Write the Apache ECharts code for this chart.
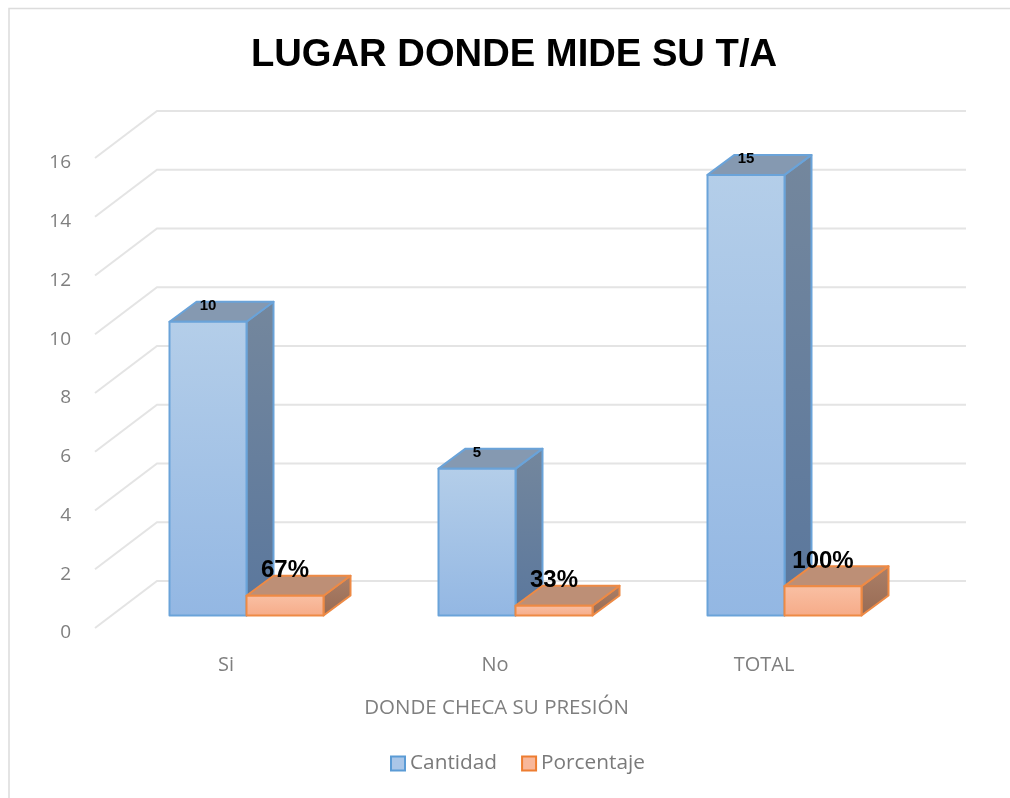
<!DOCTYPE html>
<html><head><meta charset="utf-8">
<style>html,body{margin:0;padding:0;background:#fff}#c{width:1010px;height:798px}</style>
<script src="https://cdn.jsdelivr.net/npm/echarts@6/dist/echarts.min.js"></script>
</head><body><div id="c"></div>
<script>
const categories = ['Si', 'No', 'TOTAL'];
const cantidad = [10, 5, 15];
const porcentaje = [0.67, 0.33, 1];
const porcentajeLabels = ['67%', '33%', '100%'];
const yTicks = [0, 2, 4, 6, 8, 10, 12, 14, 16];

const WALL_DX = 62, WALL_DY = 47;     // back wall offset
const BASE_DX = 17, BASE_DY = 12.5;   // bar plane offset
const DEPTH_DX = 27, DEPTH_DY = 20;   // bar depth
const BAR_W = 77;
const ARIAL = '"Liberation Sans", Arial, sans-serif';
const BODY = '"Open Sans", "Noto Sans", sans-serif';

function vGrad(a, b) {
  return new echarts.graphic.LinearGradient(0, 0, 0, 1, [{offset: 0, color: a}, {offset: 1, color: b}]);
}

function renderWall(params, api) {
  const cs = params.coordSys;
  const p = api.coord([0, api.value(0)]);
  const y = p[1];
  return {
    type: 'polyline',
    silent: true,
    shape: {points: [[cs.x, y], [cs.x + WALL_DX, y - WALL_DY], [cs.x + cs.width + WALL_DX + 2, y - WALL_DY]]},
    style: {fill: null, stroke: '#e4e4e4', lineWidth: 2}
  };
}

function barRenderer(side, pal, labelFn) {
  return function (params, api) {
    const idx = api.value(0);
    const val = api.value(1);
    const c0 = api.coord([idx, 0]);
    const c1 = api.coord([idx, val]);
    const x0 = c0[0] + BASE_DX + (side === 0 ? -BAR_W : 0);
    const x1 = x0 + BAR_W;
    const yb = c0[1] - BASE_DY;
    const yt = c1[1] - BASE_DY;
    const dx = DEPTH_DX, dy = DEPTH_DY;
    const lw = pal.lw;
    const stroke = {stroke: pal.border, lineWidth: lw, lineJoin: 'round'};
    const lab = labelFn(params.dataIndex);
    return {
      type: 'group',
      children: [
        {type: 'polygon', shape: {points: [[x1, yb], [x1 + dx, yb - dy], [x1 + dx, yt - dy], [x1, yt]]},
         style: Object.assign({fill: vGrad(pal.sideA, pal.sideB)}, stroke)},
        {type: 'polygon', shape: {points: [[x0, yt], [x0 + dx, yt - dy], [x1 + dx, yt - dy], [x1, yt]]},
         style: Object.assign({fill: pal.top}, stroke)},
        {type: 'rect', shape: {x: x0, y: yt, width: BAR_W, height: yb - yt},
         style: Object.assign({fill: vGrad(pal.frontA, pal.frontB)}, stroke)},
        {type: 'text', z2: 10, x: x0 + BAR_W / 2 + lab.ox, y: yt + lab.oy,
         style: {text: lab.text, fill: '#000', font: 'bold ' + lab.size + 'px ' + ARIAL, align: 'center', verticalAlign: 'middle'}}
      ]
    };
  };
}

const bluePal = {border: '#6aa3d9', lw: 2, frontA: '#b4cee9', frontB: '#93b7e3', top: '#8599b1', sideA: '#74879d', sideB: '#5a779d'};
const orangePal = {border: '#ee8a45', lw: 2, frontA: '#f9c0a4', frontB: '#f6ab88', top: '#bd8f76', sideA: '#ab7f68', sideB: '#986b53'};

const chart = echarts.init(document.getElementById('c'), null, {renderer: 'canvas'});
chart.setOption({
  backgroundColor: '#fff',
  animation: false,
  title: {
    text: 'LUGAR DONDE MIDE SU T/A',
    left: 509, top: 31, textAlign: 'center',
    textStyle: {fontFamily: ARIAL, fontWeight: 'bold', fontSize: 38.2, color: '#000'}
  },
  legend: {
    bottom: 19, left: 385,
    itemWidth: 14, itemHeight: 14, itemGap: 24,
    icon: 'rect',
    selectedMode: false,
    textStyle: {fontFamily: BODY, fontSize: 20.8, color: '#7a7a7a'},
    data: [
      {name: 'Cantidad', itemStyle: {color: '#aac6e8', borderColor: '#5b9bd5', borderWidth: 2}},
      {name: 'Porcentaje', itemStyle: {color: '#f8b79a', borderColor: '#ed7d31', borderWidth: 2}}
    ]
  },
  grid: {left: 95, right: 108, top: 158, bottom: 170},
  xAxis: {
    type: 'category', data: categories,
    name: 'DONDE CHECA SU PRESIÓN', nameLocation: 'middle', nameGap: 70,
    nameTextStyle: {fontFamily: BODY, fontSize: 20.5, color: '#7f7f7f', padding: [0, 4, 0, 0]},
    axisLine: {show: false}, axisTick: {show: false},
    axisLabel: {fontFamily: BODY, fontSize: 20, color: '#7f7f7f', margin: 27, padding: [0, 7, 0, 0]}
  },
  yAxis: {
    type: 'value', min: 0, max: 16, interval: 2,
    axisLine: {show: false}, axisTick: {show: false}, splitLine: {show: false},
    axisLabel: {fontFamily: BODY, fontSize: 19, color: '#7f7f7f', margin: 24, verticalAlign: 'top', lineHeight: 10}
  },
  graphic: [
    {type: 'polyline', silent: true, z: -1,
     shape: {points: [[9, 798], [9, 8.5], [1010, 8.5]]},
     style: {fill: null, stroke: '#dcdcdc', lineWidth: 1.5}}
  ],
  series: [
    {type: 'custom', clip: false, silent: true, z: 1, renderItem: renderWall,
     data: yTicks.map(v => [v]), encode: {y: 0}, tooltip: {show: false}},
    {type: 'custom', name: 'Cantidad', clip: false, z: 3,
     itemStyle: {color: '#aac6e8', borderColor: '#5b9bd5'},
     renderItem: barRenderer(0, bluePal, i => ({text: String(cantidad[i]), size: 15, ox: 0, oy: -16})),
     data: cantidad.map((v, i) => [i, v]), encode: {x: 0, y: 1}},
    {type: 'custom', name: 'Porcentaje', clip: false, z: 4,
     itemStyle: {color: '#f8b79a', borderColor: '#ed7d31'},
     renderItem: barRenderer(1, orangePal, i => ({text: porcentajeLabels[i], size: 24, ox: 0, oy: -25})),
     data: porcentaje.map((v, i) => [i, v]), encode: {x: 0, y: 1}}
  ]
});
</script></body></html>
